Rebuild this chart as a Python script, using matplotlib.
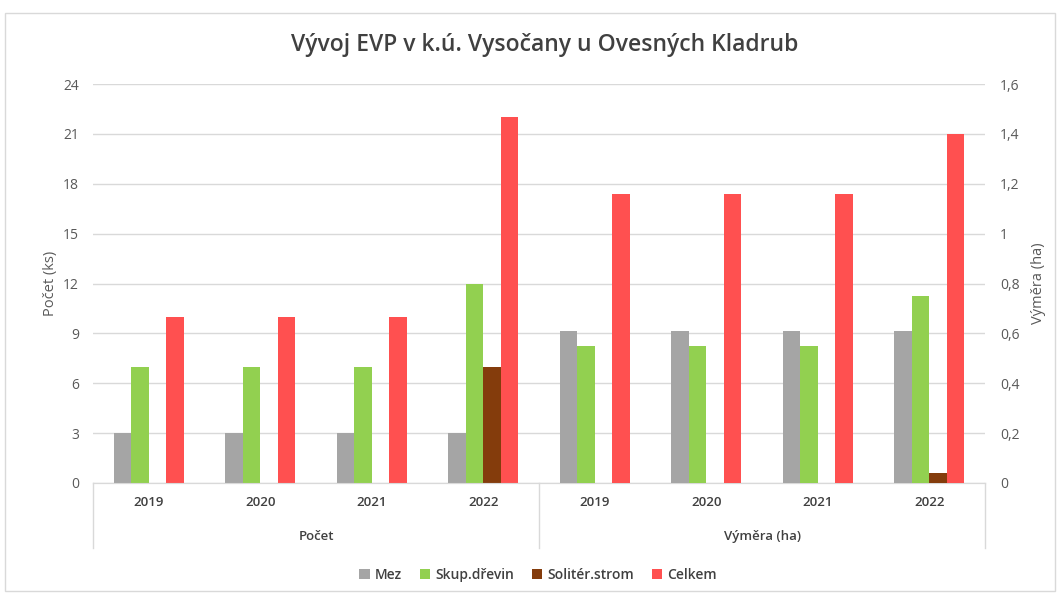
import matplotlib.pyplot as plt
from matplotlib.patches import Patch, Rectangle
from matplotlib.ticker import FuncFormatter

plt.rcParams['font.family'] = ['Open Sans', 'DejaVu Sans']

# data
years = ['2019', '2020', '2021', '2022']
groups = ['Počet', 'Výměra (ha)']
series = ['Mez', 'Skup.dřevin', 'Solitér.strom', 'Celkem']

pocet_mez = [3, 3, 3, 3]
pocet_skup = [7, 7, 7, 12]
pocet_solit = [0, 0, 0, 7]
pocet_celkem = [10, 10, 10, 22]

vymera_mez = [0.61, 0.61, 0.61, 0.61]
vymera_skup = [0.55, 0.55, 0.55, 0.75]
vymera_solit = [0, 0, 0, 0.04]
vymera_celkem = [1.16, 1.16, 1.16, 1.40]

colors = ['#A5A5A5', '#92D050', '#843C0C', '#FF5050']
text_col = '#595959'
dark_col = '#404040'
grid_col = '#D9D9D9'

fig = plt.figure(figsize=(10.6, 5.93), dpi=100)
ax = fig.add_axes([93 / 1060, 1 - 483 / 593, (985 - 93) / 1060, (483 - 84) / 593])
ax2 = ax.twinx()

# outer chart frame
fig.patches.append(Rectangle((5 / 1060, 2 / 593), 1050 / 1060, 578 / 593,
                             transform=fig.transFigure, fill=False,
                             edgecolor=grid_col, linewidth=1))

w = 0.157
offsets = [-1.5 * w, -0.5 * w, 0.5 * w, 1.5 * w]
left_x = [0, 1, 2, 3]
right_x = [4, 5, 6, 7]

left_data = [pocet_mez, pocet_skup, pocet_solit, pocet_celkem]
right_data = [vymera_mez, vymera_skup, vymera_solit, vymera_celkem]

for i in range(4):
    ax.bar([x + offsets[i] for x in left_x], left_data[i], w,
           color=colors[i], linewidth=0, zorder=3)
    ax2.bar([x + offsets[i] for x in right_x], right_data[i], w,
            color=colors[i], linewidth=0, zorder=3)

ax.set_xlim(-0.5, 7.5)
ax.set_ylim(0, 24)
ax.set_yticks(range(0, 25, 3))
ax2.set_ylim(0, 1.6)
ax2.set_yticks([0, 0.2, 0.4, 0.6, 0.8, 1.0, 1.2, 1.4, 1.6])
ax2.yaxis.set_major_formatter(FuncFormatter(lambda v, p: ('%g' % round(v, 1)).replace('.', ',')))

ax.set_axisbelow(True)
ax.yaxis.grid(True, color=grid_col, linewidth=1)
ax.set_xticks([])

for a in (ax, ax2):
    for s in ('top', 'left', 'right'):
        a.spines[s].set_visible(False)
    a.spines['bottom'].set_color(grid_col)
    a.tick_params(axis='y', length=0, labelsize=10, labelcolor=text_col)
ax.tick_params(axis='y', pad=10)
ax2.tick_params(axis='y', pad=11)

ax.set_ylabel('Počet (ks)', fontsize=10.5, color=text_col, labelpad=4)
ax2.set_ylabel('Výměra (ha)', fontsize=10.5, color=text_col, rotation=90, labelpad=8)

# multi-level category axis
tr = ax.get_xaxis_transform()
for i, y in enumerate(years + years):
    ax.text(i, -0.048, y, transform=tr, ha='center', va='center',
            fontsize=9.5, fontweight='semibold', color=dark_col)
for i, g in enumerate(groups):
    ax.text(1.5 + 4 * i, -0.135, g, transform=tr, ha='center', va='center',
            fontsize=9.5, fontweight='semibold', color=dark_col)
for xs in (-0.5, 3.5, 7.5):
    ax.plot([xs, xs], [0, -0.163], transform=tr, color=grid_col,
            linewidth=1, clip_on=False)

fig.text(545 / 1060, 1 - 45 / 593, 'Vývoj EVP v k.ú. Vysočany u Ovesných Kladrub',
         ha='center', va='center', fontsize=16.5, fontweight='semibold', color=dark_col)

handles = [Patch(facecolor=c, edgecolor='none') for c in colors]
leg = fig.legend(handles, series, loc='center', bbox_to_anchor=(538 / 1060, 1 - 575 / 593),
                 ncol=4, frameon=False, handlelength=0.75, handleheight=0.75,
                 handletextpad=0.35, columnspacing=1.3,
                 prop={'size': 10, 'weight': 'semibold'})
for t in leg.get_texts():
    t.set_color(dark_col)

fig.savefig('out.png', dpi=100)
